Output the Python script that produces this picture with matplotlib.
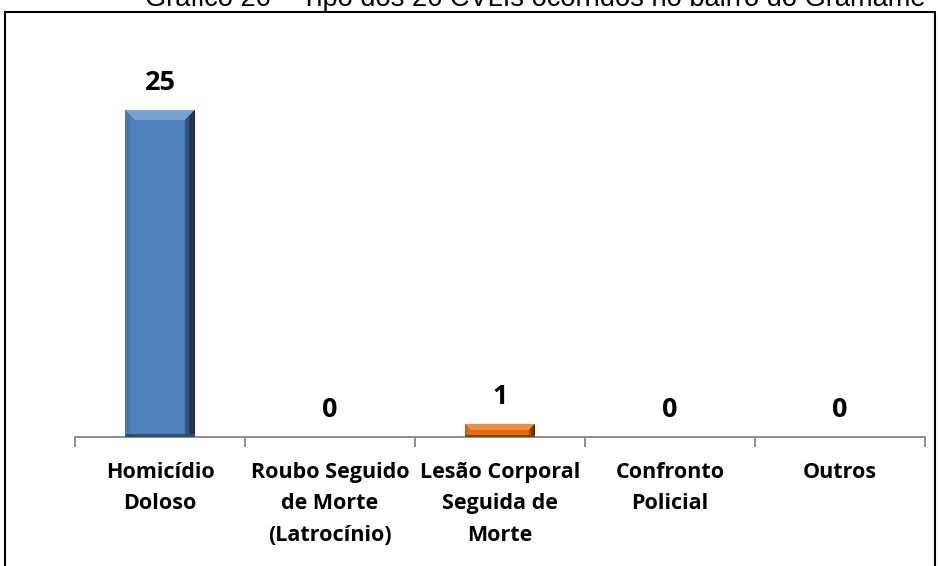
import numpy as np
import matplotlib
matplotlib.use('Agg')
import matplotlib.pyplot as plt
from matplotlib.patches import Polygon, Rectangle

# data
categories = ['Homicídio\nDoloso', 'Roubo Seguido\nde Morte\n(Latrocínio)',
              'Lesão Corporal\nSeguida de\nMorte', 'Confronto\nPolicial', 'Outros']
values = [25, 0, 1, 0, 0]
bar_colors = ['#4F81BD', '#4F81BD', '#E46C0A', '#4F81BD', '#4F81BD']
title = 'Gráfico 26 – Tipo dos 26 CVLIs ocorridos no bairro do Gramame'

W, H = 938, 566
fig = plt.figure(figsize=(W / 100, H / 100), dpi=100)
plt.rcParams['font.family'] = ['Open Sans', 'DejaVu Sans']

# axes in pixel layout
ax_l, ax_r, ax_b, ax_t = 75, 925, 437, 110
ax = fig.add_axes([ax_l / W, 1 - ax_b / H, (ax_r - ax_l) / W, (ax_b - ax_t) / H])
ax.set_xlim(-0.5, len(categories) - 0.5)
ax.set_ylim(0, max(values))

x = np.arange(len(categories))
bw = 0.41
bars = ax.bar(x, values, width=bw, color=bar_colors, zorder=2)

# bevel effect
px_x = (len(categories)) / (ax_r - ax_l)
px_y = max(values) / (ax_b - ax_t)
def shade(c, f):
    c = np.array(matplotlib.colors.to_rgb(c))
    return tuple(np.clip(c * f if f < 1 else c + (1 - c) * (f - 1), 0, 1))

for b, c in zip(bars, bar_colors):
    h = b.get_height()
    if h <= 0:
        continue
    x0, x1 = b.get_x(), b.get_x() + b.get_width()
    bp = min(10, h / px_y / 2.2)
    dx, dy = bp * px_x, bp * px_y
    # top bevel (lighter)
    ax.add_patch(Polygon([(x0, h), (x1, h), (x1 - dx, h - dy), (x0 + dx, h - dy)],
                         closed=True, facecolor=shade(c, 1.25), edgecolor='none', zorder=3))
    # right side (dark gradient)
    n = 8
    for i in range(n):
        f0 = i / n
        f1 = (i + 1) / n
        xa = x1 - dx + dx * f0
        xb = x1 - dx + dx * f1
        ya = h - dy + dy * f0
        yb = h - dy + dy * f1
        ax.add_patch(Polygon([(xa, ya), (xb, yb), (xb, 0), (xa, 0)], closed=True,
                             facecolor=shade(c, 0.75 - 0.55 * f1), edgecolor='none', zorder=3))
    # left side (slightly darker)
    ax.add_patch(Polygon([(x0, h), (x0 + dx * 0.5, h - dy * 0.5), (x0 + dx * 0.5, 0), (x0, 0)],
                         closed=True, facecolor=shade(c, 0.93), edgecolor='none', zorder=3))
    # bottom edge line
    ax.add_patch(Polygon([(x0, dy * 0.3), (x1, dy * 0.3), (x1, 0), (x0, 0)],
                         closed=True, facecolor=shade(c, 0.6), edgecolor='none', zorder=3))

# value labels
for xi, v in zip(x, values):
    ax.annotate(str(v), (xi, v), xytext=(0, 14.5), textcoords='offset points',
                ha='center', va='baseline', fontsize=19.5, fontweight='bold', color='black',
                annotation_clip=False)

# axis styling
for s in ['top', 'right', 'left']:
    ax.spines[s].set_visible(False)
ax.spines['bottom'].set_color('#868686')
ax.spines['bottom'].set_linewidth(1.3)
ax.set_yticks([])
ax.set_xticks(np.arange(-0.5, len(categories), 1.0))
ax.set_xticklabels([])
ax.tick_params(axis='x', length=7, width=1.3, color='#868686', direction='out')
for xi, lab in zip(x, categories):
    ax.text(xi, -25 / (ax_b - ax_t), lab, transform=ax.get_xaxis_transform(),
            ha='center', va='top', fontsize=15.5, fontweight='bold', linespacing=1.65,
            multialignment='center')

# outer border and clipped title
fig.patches.append(Rectangle((5 / W, -0.05), (935 - 5) / W, 1 - 12 / H + 0.05,
                             transform=fig.transFigure, fill=False, edgecolor='black',
                             linewidth=1.5))
fig.text(535 / W, 1 - 6 / H, title, ha='center', va='baseline', fontsize=19.6,
         family=['Liberation Sans', 'DejaVu Sans'])

fig.savefig('out.png', dpi=100, facecolor='white')
